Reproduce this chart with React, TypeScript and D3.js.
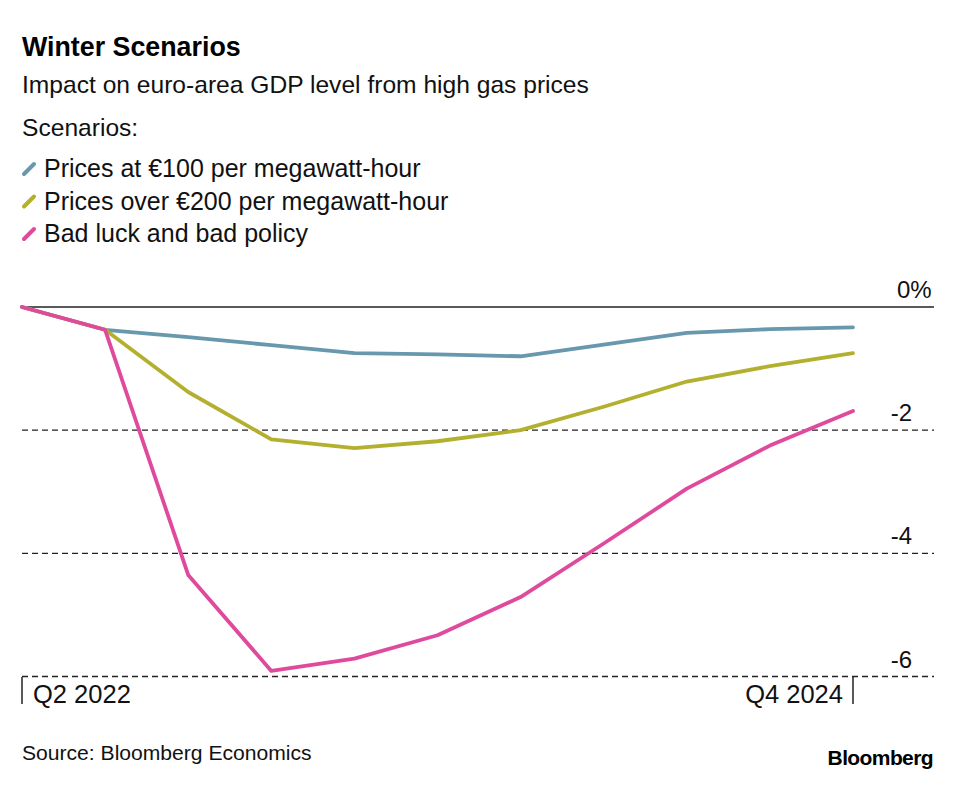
import React from "react";
import * as d3 from "d3";

const quarters = ["Q2 2022","Q3 2022","Q4 2022","Q1 2023","Q2 2023","Q3 2023","Q4 2023","Q1 2024","Q2 2024","Q3 2024","Q4 2024"];
const price100 = [0, -0.37, -0.49, -0.62, -0.75, -0.77, -0.80, -0.61, -0.42, -0.36, -0.33];
const price200 = [0, -0.37, -1.38, -2.15, -2.29, -2.18, -2.00, -1.62, -1.21, -0.96, -0.75];
const badLuck = [0, -0.37, -4.35, -5.91, -5.71, -5.33, -4.71, -3.84, -2.95, -2.25, -1.69];
const yTicks = [0, -2, -4, -6];
const xTickLabels = ["Q2 2022", "Q4 2024"];
const seriesNames = ["Prices at €100 per megawatt-hour", "Prices over €200 per megawatt-hour", "Bad luck and bad policy"];
const seriesColors = ["#6898ad", "#b4b02f", "#df4a9d"];

export default function App() {
  const W = 963, H = 785;
  const x = d3.scalePoint<string>().domain(quarters).range([22, 853]);
  const y = d3.scaleLinear().domain([0, -6]).range([307, 676.5]);
  const line = d3.line<number>().x((_, i) => x(quarters[i]) as number).y((d) => y(d));
  const series = [price100, price200, badLuck];
  const font = "'Liberation Sans', Arial, sans-serif";
  const gridX0 = 22, gridX1 = 934;
  return (
    <svg width={W} height={H} style={{ position: "absolute", left: 0, top: 0, background: "#fff" }} fontFamily={font}>
      <text x={22} y={56} fontSize={26.8} fontWeight="bold" fill="#000">Winter Scenarios</text>
      <text x={22} y={93} fontSize={24.6} fill="#111">Impact on euro-area GDP level from high gas prices</text>
      <text x={22} y={136} fontSize={24.6} fill="#111">Scenarios:</text>
      {seriesNames.map((n, i) => {
        const by = 177 + i * 32.5;
        return (
          <g key={n}>
            <line x1={24} y1={by - 3} x2={34} y2={by - 13} stroke={seriesColors[i]} strokeWidth={4} strokeLinecap="round" />
            <text x={44} y={by} fontSize={25} fill="#111">{n}</text>
          </g>
        );
      })}
      {yTicks.map((t) => (
        <g key={t}>
          <line x1={gridX0} x2={gridX1} y1={y(t)} y2={y(t)} stroke="#222" strokeWidth={t === 0 ? 1.5 : 1.3}
            strokeDasharray={t === 0 ? undefined : "6,4"} />
          {t === 0 ? (
            <text x={897} y={y(t) - 9} fontSize={24} fill="#111">0%</text>
          ) : (
            <text x={912} y={y(t) - 9} fontSize={24} textAnchor="end" fill="#111">{t}</text>
          )}
        </g>
      ))}
      {series.map((s, i) => (
        <path key={i} d={line(s) || ""} fill="none" stroke={seriesColors[i]} strokeWidth={3.8}
          strokeLinejoin="round" strokeLinecap="round" />
      ))}
      {xTickLabels.map((l, i) => {
        const xx = x(l) as number;
        return (
          <g key={l}>
            <line x1={xx} x2={xx} y1={677} y2={704} stroke="#222" strokeWidth={1.5} />
            <text x={i === 0 ? xx + 11 : xx - 10} y={703} fontSize={25.5} textAnchor={i === 0 ? "start" : "end"} fill="#111">{l}</text>
          </g>
        );
      })}
      <text x={22} y={760} fontSize={21.1} fill="#111">Source: Bloomberg Economics</text>
      <text x={933} y={765} fontSize={21} fontWeight="bold" textAnchor="end" fill="#000" letterSpacing={-0.6}>Bloomberg</text>
    </svg>
  );
}
